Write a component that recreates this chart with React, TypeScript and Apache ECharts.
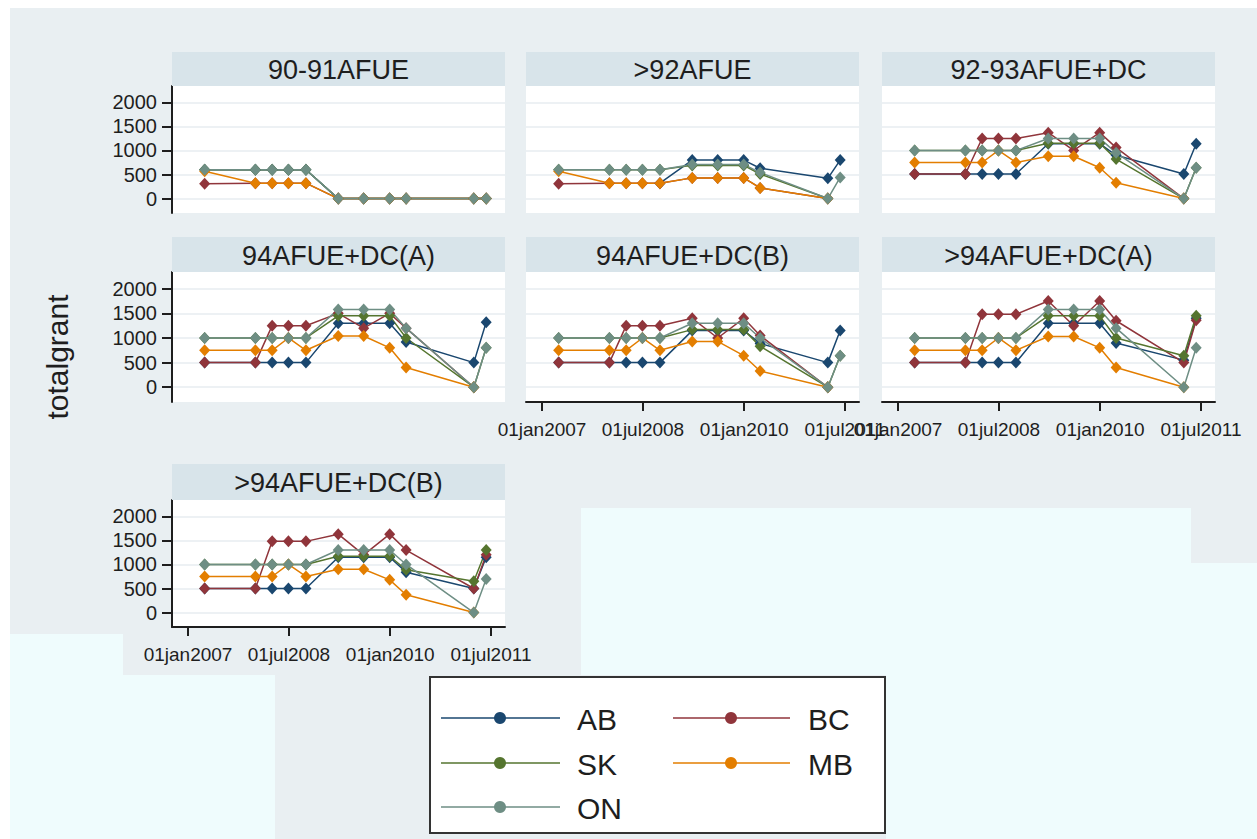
import React, { useEffect, useRef } from "react";
import * as echarts from "echarts";

// ---------- data ----------
const provinces = ["AB", "BC", "SK", "MB", "ON"];
const provinceColors = ["#1a476f", "#90353b", "#55752f", "#e37e00", "#6e8e84"];
const panelTitles = [
  "90-91AFUE",
  ">92AFUE",
  "92-93AFUE+DC",
  "94AFUE+DC(A)",
  "94AFUE+DC(B)",
  ">94AFUE+DC(A)",
  ">94AFUE+DC(B)",
];
const dates = [
  "2007-04-01", "2008-01-01", "2008-04-01", "2008-06-28", "2008-10-01", "2009-03-25",
  "2009-08-10", "2009-12-29", "2010-03-28", "2011-03-30", "2011-06-05",
];
const yTicks = [0, 500, 1000, 1500, 2000];
const xTickDates = ["2007-01-01", "2008-07-01", "2010-01-01", "2011-07-01"];
const xTickLabels = ["01jan2007", "01jul2008", "01jan2010", "01jul2011"];
const xRange = ["2006-10-06", "2011-09-15"];

// rows: AB, BC, SK, MB, ON
const afue9091 = [
  [600, 600, 600, 600, 600, 0, 0, 0, 0, 0, 0],
  [310, 320, 320, 320, 320, 0, 0, 0, 0, 0, 0],
  [600, 600, 600, 600, 600, 0, 0, 0, 0, 0, 0],
  [570, 320, 320, 320, 320, 0, 0, 0, 0, 0, 0],
  [600, 600, 600, 600, 600, 0, 0, 0, 0, 0, 0],
];
const afue92 = [
  [null, null, null, null, 320, 800, 800, 800, 630, 420, 800],
  [310, 320, 320, 320, 320, 430, 430, 430, 220, 0, null],
  [600, 600, 600, 600, 600, 690, 690, 690, 510, 0, null],
  [570, 320, 320, 320, 320, 430, 430, 430, 220, 0, null],
  [600, 600, 600, 600, 600, 710, 710, 710, 540, 0, 440],
];
const afue9293dc = [
  [510, 510, 510, 510, 510, 1140, 1140, 1140, 900, 510, 1140],
  [510, 510, 1250, 1250, 1250, 1370, 1000, 1370, 1060, 0, null],
  [1000, 1000, 1000, 1000, 1000, 1150, 1150, 1150, 820, 0, 640],
  [750, 750, 750, 1000, 750, 880, 880, 640, 330, 0, null],
  [1000, 1000, 1000, 1000, 1000, 1250, 1250, 1250, 950, 0, 640],
];
const afue94dcA = [
  [500, 500, 500, 500, 500, 1300, 1300, 1300, 920, 500, 1320],
  [500, 500, 1250, 1250, 1250, 1500, 1200, 1500, 1200, 0, null],
  [1000, 1000, 1000, 1000, 1000, 1450, 1450, 1450, 1000, 0, 800],
  [750, 750, 750, 1000, 750, 1040, 1040, 800, 400, 0, null],
  [1000, 1000, 1000, 1000, 1000, 1580, 1580, 1580, 1200, 0, 800],
];
const afue94dcB = [
  [500, 500, 500, 500, 500, 1150, 1150, 1150, 890, 500, 1150],
  [500, 500, 1250, 1250, 1250, 1400, 1000, 1400, 1050, 0, null],
  [1000, 1000, 1000, 1000, 1000, 1170, 1170, 1170, 830, 0, 640],
  [750, 750, 750, 1000, 750, 930, 930, 640, 330, 0, null],
  [1000, 1000, 1000, 1000, 1000, 1300, 1300, 1300, 1000, 0, 640],
];
const afueGt94dcA = [
  [500, 500, 500, 500, 500, 1300, 1300, 1300, 900, 550, 1400],
  [500, 500, 1480, 1480, 1480, 1750, 1250, 1750, 1350, 500, 1360],
  [1000, 1000, 1000, 1000, 1000, 1450, 1450, 1450, 1000, 640, 1450],
  [750, 750, 750, 1000, 750, 1030, 1030, 800, 400, 0, null],
  [1000, 1000, 1000, 1000, 1000, 1580, 1580, 1580, 1200, 0, 800],
];
const afueGt94dcB = [
  [500, 500, 500, 500, 500, 1150, 1150, 1150, 840, 500, 1150],
  [500, 500, 1480, 1480, 1480, 1630, 1200, 1630, 1300, 500, 1200],
  [1000, 1000, 1000, 1000, 1000, 1170, 1170, 1170, 890, 650, 1300],
  [750, 750, 750, 1000, 750, 900, 900, 680, 370, 0, null],
  [1000, 1000, 1000, 1000, 1000, 1300, 1300, 1300, 1000, 0, 700],
];
const panelData = [afue9091, afue92, afue9293dc, afue94dcA, afue94dcB, afueGt94dcA, afueGt94dcB];

// ---------- layout ----------
const FONT = "'Liberation Sans', Arial, Helvetica, sans-serif";
const TEXT = "#1e1e1e";
const BG = "#e9eff2";
const CYAN = "#effcfd";
const STRIP = "#d8e4ea";
const GRIDLINE = "#e7edf0";
const colLeft = [172, 526, 882];
const gridW = 333;
const rowTop = [86, 272, 500];
const rowH = [127, 130, 127];
const stripTop = [52, 237, 464];
const xAxisShown = [false, false, false, false, true, true, true];
const Y_MIN = -300;
const Y_MAX = 2340;

// days since 1 Jan 2007 (Stata-like daily date)
const dayNum = (s: string) => {
  const [y, m, d] = s.split("-").map(Number);
  return Math.round((Date.UTC(y, m - 1, d) - Date.UTC(2007, 0, 1)) / 86400000);
};

export default function App() {
  const ref = useRef<HTMLDivElement>(null);
  useEffect(() => {
    if (!ref.current) return;
    const chart = echarts.init(ref.current, undefined, { renderer: "svg" });
    const xTickVals = xTickDates.map(dayNum);
    const labelOf = (v: number) => {
      const i = xTickVals.findIndex((t) => Math.abs(t - v) < 0.5);
      return i >= 0 ? xTickLabels[i] : "";
    };
    const grids: any[] = [];
    const xAxes: any[] = [];
    const yAxes: any[] = [];
    const series: any[] = [];
    const graphics: any[] = [
      { type: "rect", shape: { x: 10, y: 8, width: 1247, height: 831 }, style: { fill: BG }, z: -100 },
      { type: "rect", shape: { x: 10, y: 634, width: 113, height: 41 }, style: { fill: CYAN }, z: -99 },
      { type: "rect", shape: { x: 10, y: 675, width: 265, height: 164 }, style: { fill: CYAN }, z: -99 },
      { type: "rect", shape: { x: 581, y: 508, width: 610, height: 167 }, style: { fill: CYAN }, z: -99 },
      { type: "rect", shape: { x: 1191, y: 563, width: 66, height: 112 }, style: { fill: CYAN }, z: -99 },
      { type: "rect", shape: { x: 886, y: 675, width: 371, height: 164 }, style: { fill: CYAN }, z: -99 },
    ];
    panelTitles.forEach((title, i) => {
      const row = Math.floor(i / 3);
      const col = i % 3;
      const showY = col === 0;
      const showX = xAxisShown[i];
      grids.push({
        left: colLeft[col],
        top: rowTop[row],
        width: gridW,
        height: rowH[row],
        show: true,
        backgroundColor: "#ffffff",
        borderWidth: 0,
      });
      graphics.push({
        type: "rect",
        shape: { x: colLeft[col], y: stripTop[row], width: gridW, height: rowTop[row] - stripTop[row] },
        style: { fill: STRIP },
        z: 1,
      });
      graphics.push({
        type: "text",
        x: colLeft[col] + gridW / 2,
        y: (stripTop[row] + rowTop[row]) / 2 + 1,
        style: { text: title, fill: TEXT, fontSize: 27, fontFamily: FONT, align: "center", verticalAlign: "middle" },
        z: 2,
      });
      xAxes.push({
        type: "value",
        gridIndex: i,
        min: dayNum(xRange[0]),
        max: dayNum(xRange[1]),
        axisLine: { show: showX, onZero: false, lineStyle: { color: TEXT, width: 2 } },
        axisTick: { show: showX, length: 9, customValues: xTickVals, lineStyle: { color: TEXT, width: 2 } },
        axisLabel: {
          show: showX,
          customValues: xTickVals,
          formatter: (v: number) => labelOf(v),
          fontSize: 19,
          fontFamily: FONT,
          color: TEXT,
          margin: 18,
        },
        splitLine: { show: false },
      });
      yAxes.push({
        type: "value",
        gridIndex: i,
        min: Y_MIN,
        max: Y_MAX,
        axisLine: { show: showY, onZero: false, lineStyle: { color: TEXT, width: 2 } },
        axisTick: { show: showY, length: 10, customValues: yTicks, lineStyle: { color: TEXT, width: 2 } },
        axisLabel: {
          show: showY,
          customValues: yTicks,
          formatter: (v: number) => String(v),
          fontSize: 20,
          fontFamily: FONT,
          color: TEXT,
          margin: 15,
        },
        splitLine: { show: true, lineStyle: { color: GRIDLINE, width: 1.5 } },
      });
      panelData[i].forEach((vals, p) => {
        const data: any[] = [];
        vals.forEach((v, k) => {
          if (v !== null && v !== undefined) data.push([dayNum(dates[k]), v]);
        });
        series.push({
          type: "line",
          name: provinces[p],
          xAxisIndex: i,
          yAxisIndex: i,
          data,
          symbol: "diamond",
          symbolSize: [11, 12],
          showSymbol: true,
          lineStyle: { color: provinceColors[p], width: 1.5 },
          itemStyle: { color: provinceColors[p] },
          emphasis: { disabled: true },
          silent: true,
        });
      });
    });

    // axis title
    graphics.push({
      type: "text",
      x: 57,
      y: 357,
      rotation: Math.PI / 2,
      style: { text: "totalgrant", fill: TEXT, fontSize: 30, fontFamily: FONT, align: "center", verticalAlign: "middle" },
      z: 2,
    });

    // legend box
    graphics.push({
      type: "rect",
      shape: { x: 430, y: 677, width: 455, height: 156 },
      style: { fill: "#ffffff", stroke: "#333333", lineWidth: 2 },
      z: 5,
    });
    const legRows = [718, 763, 807];
    const legCols = [
      { x1: 441, x2: 560, m: 500, t: 577 },
      { x1: 673, x2: 790, m: 731, t: 808 },
    ];
    provinces.forEach((name, p) => {
      const r = Math.floor(p / 2);
      const c = p % 2;
      const y = legRows[r];
      const lc = legCols[c];
      graphics.push({
        type: "line",
        shape: { x1: lc.x1, y1: y, x2: lc.x2, y2: y },
        style: { stroke: provinceColors[p], lineWidth: 1.5 },
        z: 6,
      });
      graphics.push({
        type: "circle",
        shape: { cx: lc.m, cy: y, r: 6 },
        style: { fill: provinceColors[p] },
        z: 7,
      });
      graphics.push({
        type: "text",
        x: lc.t,
        y: y + 1,
        style: { text: name, fill: TEXT, fontSize: 30, fontFamily: FONT, align: "left", verticalAlign: "middle" },
        z: 7,
      });
    });

    chart.setOption({
      animation: false,
      backgroundColor: "#ffffff",
      grid: grids,
      xAxis: xAxes,
      yAxis: yAxes,
      series,
      graphic: { elements: graphics },
    });
    return () => chart.dispose();
  }, []);
  return (
    <div
      ref={ref}
      style={{ position: "absolute", left: 0, top: 0, width: 1257, height: 839 }}
    />
  );
}
